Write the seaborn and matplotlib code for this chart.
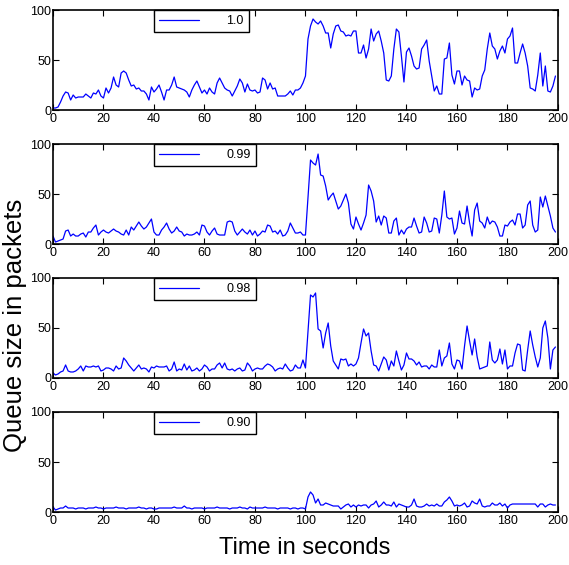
import numpy as np
import matplotlib
matplotlib.use('Agg')
import matplotlib.pyplot as plt
import seaborn as sns

tempo = np.arange(200)

fila_100 = [2, 2, 3, 8, 14, 18, 17, 10, 15, 12,
            13, 13, 13, 16, 14, 12, 17, 16, 20, 14,
            12, 22, 17, 22, 33, 25, 23, 37, 39, 37,
            30, 24, 25, 21, 22, 19, 19, 16, 10, 23,
            18, 21, 25, 18, 10, 20, 20, 25, 33, 23,
            22, 21, 20, 18, 13, 20, 25, 29, 23, 17,
            20, 16, 22, 18, 16, 27, 32, 27, 22, 20,
            19, 14, 19, 24, 31, 27, 18, 26, 20, 19,
            20, 17, 18, 32, 30, 21, 27, 21, 22, 14,
            14, 14, 14, 16, 19, 15, 20, 20, 22, 27,
            34, 71, 84, 91, 88, 86, 89, 84, 77, 77,
            62, 76, 84, 85, 79, 78, 74, 75, 74, 79,
            79, 57, 57, 65, 52, 61, 81, 69, 76, 79,
            69, 57, 30, 29, 34, 61, 81, 78, 54, 28,
            58, 62, 54, 44, 41, 42, 61, 65, 70, 49,
            34, 19, 24, 16, 16, 51, 52, 67, 35, 26,
            39, 39, 25, 34, 30, 29, 13, 22, 20, 21,
            34, 40, 61, 77, 64, 61, 51, 59, 64, 57,
            71, 74, 82, 47, 47, 57, 66, 57, 44, 22,
            21, 19, 35, 57, 24, 44, 19, 18, 24, 34]

fila_099 = [8, 2, 3, 4, 5, 13, 14, 8, 10, 8,
            8, 10, 11, 7, 12, 12, 16, 19, 9, 12,
            14, 12, 11, 13, 15, 13, 12, 10, 9, 14,
            9, 17, 14, 18, 22, 18, 15, 17, 21, 25,
            12, 9, 9, 14, 17, 21, 15, 11, 13, 17,
            13, 12, 8, 10, 9, 9, 10, 12, 9, 19,
            18, 12, 9, 13, 16, 10, 9, 9, 9, 22,
            23, 22, 13, 9, 12, 15, 12, 10, 14, 9,
            13, 8, 10, 13, 12, 19, 18, 12, 13, 10,
            14, 8, 9, 13, 21, 16, 11, 11, 12, 9,
            9, 47, 84, 81, 79, 90, 69, 68, 58, 44,
            48, 51, 43, 35, 38, 44, 50, 41, 20, 15,
            27, 20, 14, 21, 29, 59, 53, 43, 22, 28,
            19, 28, 26, 11, 11, 23, 26, 9, 14, 10,
            15, 17, 17, 26, 18, 11, 12, 27, 21, 12,
            13, 26, 25, 11, 29, 53, 27, 25, 26, 10,
            16, 33, 21, 20, 38, 21, 8, 34, 41, 23,
            21, 16, 27, 20, 23, 22, 17, 8, 8, 19,
            18, 22, 24, 19, 30, 30, 16, 19, 39, 43,
            19, 12, 14, 47, 37, 48, 38, 28, 16, 12]

fila_098 = [5, 3, 4, 6, 7, 13, 7, 6, 6, 7,
            9, 12, 7, 12, 11, 11, 12, 11, 12, 7,
            8, 10, 10, 9, 7, 12, 9, 10, 20, 17,
            13, 10, 7, 10, 13, 9, 10, 9, 6, 11,
            10, 12, 11, 11, 11, 12, 7, 9, 16, 7,
            9, 8, 14, 8, 12, 7, 8, 10, 7, 9,
            13, 11, 7, 9, 9, 13, 15, 10, 15, 9,
            8, 9, 7, 9, 10, 7, 8, 15, 12, 7,
            9, 10, 9, 9, 12, 14, 13, 11, 7, 9,
            10, 9, 14, 10, 7, 8, 13, 10, 10, 18,
            10, 47, 83, 81, 85, 49, 47, 30, 45, 55,
            32, 17, 13, 9, 19, 18, 19, 12, 14, 12,
            14, 20, 35, 49, 42, 45, 27, 13, 12, 7,
            14, 21, 18, 8, 17, 12, 27, 17, 8, 13,
            25, 19, 19, 17, 13, 16, 11, 12, 12, 9,
            13, 11, 11, 28, 12, 20, 22, 35, 14, 9,
            18, 17, 9, 32, 52, 37, 23, 39, 21, 9,
            10, 11, 12, 36, 18, 15, 18, 29, 14, 28,
            9, 12, 12, 25, 34, 33, 8, 7, 28, 47,
            33, 21, 11, 20, 50, 57, 40, 9, 28, 31]

fila_090 = [5, 2, 3, 4, 4, 6, 4, 4, 4, 3,
            4, 4, 4, 3, 4, 4, 4, 5, 4, 4,
            3, 4, 4, 4, 4, 5, 4, 4, 4, 3,
            4, 4, 4, 4, 5, 4, 4, 3, 4, 4,
            3, 3, 4, 4, 4, 4, 4, 4, 5, 4,
            4, 4, 6, 4, 4, 3, 4, 4, 4, 4,
            3, 4, 4, 4, 4, 5, 4, 4, 4, 4,
            3, 4, 4, 4, 5, 4, 4, 3, 5, 4,
            4, 4, 4, 4, 5, 4, 4, 4, 4, 3,
            4, 4, 4, 4, 3, 4, 4, 3, 4, 4,
            3, 15, 20, 17, 9, 13, 7, 7, 9, 8,
            7, 6, 6, 6, 3, 5, 7, 8, 5, 7,
            5, 7, 6, 7, 7, 4, 7, 8, 11, 5,
            7, 10, 7, 7, 6, 10, 5, 8, 7, 6,
            5, 5, 7, 13, 6, 5, 5, 6, 8, 6,
            7, 6, 8, 6, 6, 10, 12, 15, 11, 6,
            7, 6, 7, 9, 5, 6, 11, 9, 8, 13,
            6, 5, 6, 6, 9, 7, 7, 9, 6, 8,
            4, 7, 8, 8, 8, 8, 8, 8, 8, 8,
            8, 8, 5, 8, 8, 5, 7, 8, 7, 7]

series = [fila_100, fila_099, fila_098, fila_090]
rotulos = ['1.0', '0.99', '0.98', '0.90']

sns.set_style('ticks')
plt.rcParams['font.family'] = ['Liberation Sans', 'DejaVu Sans']
plt.rcParams['text.color'] = 'black'
plt.rcParams['xtick.color'] = 'black'
plt.rcParams['ytick.color'] = 'black'

fig = plt.figure(figsize=(5.69, 5.65), dpi=100)

# posicao vertical de cada painel (fracao da figura)
bases = [0.8053, 0.5681, 0.331, 0.0938]

for base, serie, rotulo in zip(bases, series, rotulos):
    ax = fig.add_axes([0.0931, base, 0.8875, 0.177])
    sns.lineplot(x=tempo, y=serie, ax=ax, color='blue',
                 linewidth=0.9, label=rotulo)
    ax.set_xlim(0, 200)
    ax.set_ylim(0, 100)
    ax.set_xticks(range(0, 201, 20))
    ax.set_yticks([0, 50, 100])
    ax.set_xlabel('')
    ax.set_ylabel('')
    ax.tick_params(direction='in', top=True, right=True, length=4,
                   labelsize=9, color='black', labelcolor='black')
    ax.tick_params(axis='x', pad=2.5)
    ax.tick_params(axis='y', pad=1.2)
    for spine in ax.spines.values():
        spine.set_color('black')
        spine.set_linewidth(1.2)

    leg = ax.legend(loc='upper left', bbox_to_anchor=(0.2, 1.0),
                    borderaxespad=0, fontsize=9, handlelength=3.2,
                    handletextpad=2.2, fancybox=False,
                    edgecolor='black', framealpha=1)
    leg.get_frame().set_linewidth(1)
    for txt in leg.get_texts():
        txt.set_color('black')

fig.text(0.026, 0.425, 'Queue size in packets', rotation=90,
         fontsize=18.5, ha='center', va='center', color='black')
fig.text(0.536, 0.03, 'Time in seconds', fontsize=17,
         ha='center', va='center', color='black')

plt.savefig('out.png', dpi=100)
